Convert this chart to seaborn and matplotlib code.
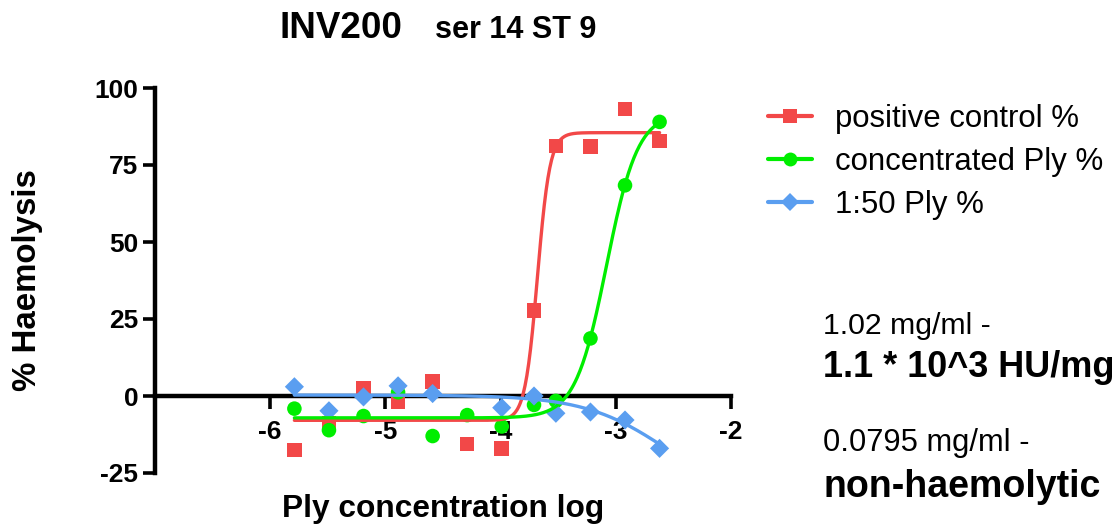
import numpy as np
import pandas as pd
import matplotlib
matplotlib.use("Agg")
import matplotlib.pyplot as plt
from matplotlib.lines import Line2D
import seaborn as sns

# log10 Ply concentration for each dilution step
log_conc = [-5.79, -5.49, -5.19, -4.89, -4.59, -4.29, -3.99, -3.71, -3.52, -3.22, -2.92, -2.62]

# % haemolysis per series (NaN = no reading)
positive_control = [-17.6, -8.8, 2.5, -2.0, 4.7, -15.6, -17.1, 27.8, 81.1, 81.0, 93.2, 82.8]
concentrated_ply = [-4.1, -11.1, -6.5, 1.2, -13.0, -6.2, -9.9, -2.9, -1.6, 18.7, 68.4, 89.0]
ply_1_50 = [3.0, -4.8, -0.3, 3.3, 0.8, np.nan, -3.8, 0.0, -5.6, -5.2, -7.8, -17.0]

series_names = ["positive control %", "concentrated Ply %", "1:50 Ply %"]

# four-parameter logistic fits: (bottom, top, logEC50, hill slope)
fit_params = {
    "positive control %": (-7.9, 85.5, -3.68, 8.0),
    "concentrated Ply %": (-7.1, 92.0, -3.08, 3.2),
    "1:50 Ply %": (-35.0, 0.3, -2.55, -1.2),
}

x_ticks = [-6, -5, -4, -3, -2]
y_ticks = [-25, 0, 25, 50, 75, 100]

colors = {"positive control %": "#F24848",
          "concentrated Ply %": "#00EE00",
          "1:50 Ply %": "#5A9EF0"}
markers = {"positive control %": "s",
           "concentrated Ply %": "o",
           "1:50 Ply %": "D"}
msizes = {"positive control %": 110, "concentrated Ply %": 110, "1:50 Ply %": 95}

points = pd.DataFrame({
    "log_conc": log_conc * 3,
    "haemolysis": positive_control + concentrated_ply + ply_1_50,
    "series": sum([[n] * len(log_conc) for n in series_names], []),
}).dropna()


def logistic(x, bottom, top, logec50, hill):
    return bottom + (top - bottom) / (1.0 + 10 ** ((logec50 - x) * hill))


sns.set_style("white")
plt.rcParams["font.family"] = ["Liberation Sans", "DejaVu Sans"]
plt.rcParams.update({"text.color": "black", "axes.labelcolor": "black",
                     "xtick.color": "black", "ytick.color": "black"})

W, H = 1118, 526
fig = plt.figure(figsize=(W / 100, H / 100), dpi=100)
ax = fig.add_axes([155 / W, 1 - 473 / H, (731 - 155) / W, (473 - 88) / H])

xs = np.linspace(min(log_conc), max(log_conc), 400)
for name in series_names:
    sub = points[points["series"] == name]
    sns.scatterplot(data=sub, x="log_conc", y="haemolysis", marker=markers[name],
                    s=msizes[name], color=colors[name], edgecolor="none",
                    ax=ax, zorder=3, legend=False)
    curve = pd.DataFrame({"x": xs, "y": logistic(xs, *fit_params[name])})
    sns.lineplot(data=curve, x="x", y="y", color=colors[name], lw=2.4,
                 ax=ax, zorder=4, legend=False)

ax.set_xlim(-7, -2)
ax.set_ylim(-25, 100)
ax.set_xticks(x_ticks)
ax.set_yticks(y_ticks)
ax.set_xticklabels([str(t) for t in x_ticks])
ax.set_yticklabels([str(t) for t in y_ticks])

for side in ["top", "right"]:
    ax.spines[side].set_visible(False)
ax.spines["bottom"].set_position(("data", 0))
for side in ["left", "bottom"]:
    ax.spines[side].set_linewidth(3.2)
    ax.spines[side].set_color("black")
    ax.spines[side].set_capstyle("projecting")

ax.tick_params(axis="both", which="major", direction="out", length=9,
               width=2.6, colors="black", labelsize=19, bottom=True, left=True)
ax.tick_params(axis="x", pad=8)
ax.tick_params(axis="y", pad=3)
for lab in ax.get_xticklabels() + ax.get_yticklabels():
    lab.set_fontweight("bold")
    lab.set_color("black")

ax.set_xlabel("Ply concentration log", fontsize=22.8, fontweight="bold", color="black")
ax.set_ylabel("% Haemolysis", fontsize=23.8, fontweight="bold", color="black")
ax.xaxis.set_label_coords(0.5, -0.055)
ax.yaxis.set_label_coords(-0.194, 0.5)
ax.xaxis.label.set_va("top")

# title in two sizes
fig.text(280 / W, 1 - 38 / H, "INV200", fontsize=26.5, fontweight="bold",
         va="baseline", color="black")
fig.text(435 / W, 1 - 38 / H, "ser 14 ST 9", fontsize=22, fontweight="bold",
         va="baseline", color="black")

handles = [Line2D([0], [0], color=colors[n], lw=3, marker=markers[n],
                  markersize=10 if markers[n] != "D" else 9, markeredgewidth=0)
           for n in series_names]
leg = ax.legend(handles, series_names, loc="upper left",
                bbox_to_anchor=(768 / W, 1 - 104 / H), bbox_transform=fig.transFigure,
                frameon=False, fontsize=22.4, handlelength=1.42, handletextpad=0.74,
                labelspacing=0.42, borderpad=0, borderaxespad=0)
for t in leg.get_texts():
    t.set_color("black")

fig.text(823 / W, 1 - 334 / H, "1.02 mg/ml -", fontsize=21.8, va="baseline", color="black")
fig.text(823 / W, 1 - 377 / H, "1.1 * 10^3 HU/mg", fontsize=25.9, fontweight="bold",
         va="baseline", color="black")
fig.text(823 / W, 1 - 451 / H, "0.0795 mg/ml -", fontsize=22.2, va="baseline", color="black")
fig.text(823 / W, 1 - 497 / H, "non-haemolytic", fontsize=27, fontweight="bold",
         va="baseline", color="black")

fig.savefig("out.png", dpi=100, facecolor="white")
